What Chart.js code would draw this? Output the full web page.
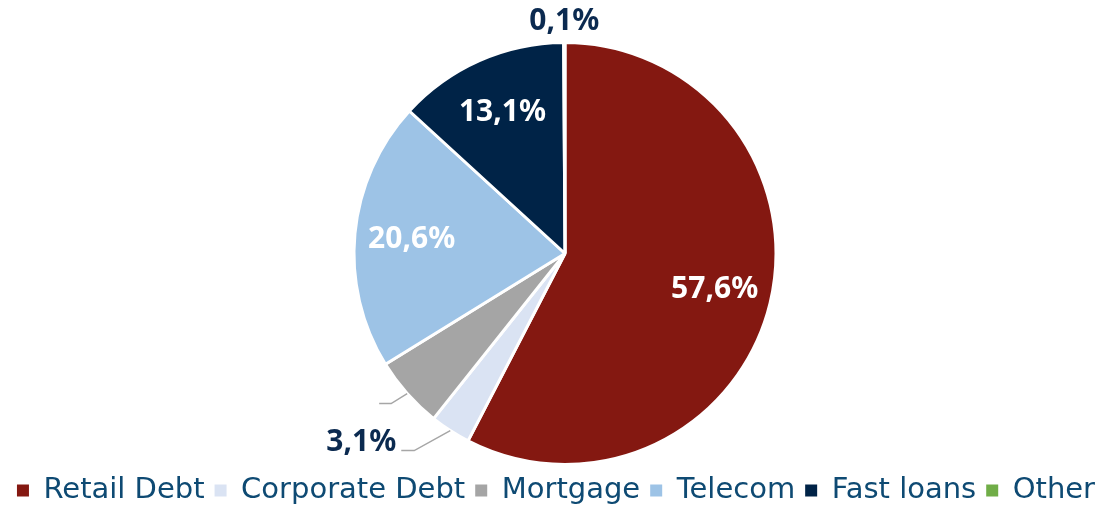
<!DOCTYPE html>
<html>
<head>
<meta charset="utf-8">
<script src="https://cdn.jsdelivr.net/npm/chart.js@4.4.0/dist/chart.umd.min.js"></script>
<style>
  html, body { margin: 0; padding: 0; background: #fff; overflow: hidden; }
  /* canvas is a bit wider than the window so the pie can sit right of centre
     while the legend still fits on one line */
  #wrap { position: absolute; left: -13px; top: 0; width: 1130px; height: 505px; }
</style>
</head>
<body>
<div id="wrap"><canvas id="chart"></canvas></div>
<script>
const categories = ['Retail Debt', 'Corporate Debt', 'Mortgage', 'Telecom', 'Fast loans', 'Other'];
const shares = [57.6, 3.1, 5.5, 20.6, 13.1, 0.1];
const sliceColors = ['#841811', '#DAE3F3', '#A5A5A5', '#9DC3E6', '#002347', '#70AD47'];

// how each slice gets its label
const labelModes = ['inside', 'leader', 'leaderOnly', 'inside', 'inside', 'outside'];
// leader elbow offsets (from the slice edge) for the small slices
const leaderElbows = { 1: [-36, 20, 13], 2: [-16, 10, 12] };

const navy = '#0B2A50';

function fmt(v) {
  return v.toFixed(1).replace('.', ',') + '%';
}

const sliceLabels = {
  id: 'sliceLabels',
  beforeDraw(chart) {
    // legend sits a little left of the pie centre
    if (!chart.legend._shifted) {
      chart.legend.left -= 9;
      chart.legend.right -= 9;
      chart.legend._shifted = true;
    }
  },
  afterDatasetsDraw(chart) {
    const ctx = chart.ctx;
    const arcs = chart.getDatasetMeta(0).data;
    ctx.save();
    ctx.font = 'bold 30px "Noto Sans"';
    arcs.forEach((arc, i) => {
      const p = arc.getProps(['x', 'y', 'startAngle', 'endAngle', 'outerRadius'], true);
      const mid = (p.startAngle + p.endAngle) / 2;
      const cos = Math.cos(mid), sin = Math.sin(mid);
      const text = fmt(shares[i]);
      const mode = labelModes[i];
      if (mode === 'inside') {
        const r = p.outerRadius * 0.73;
        ctx.fillStyle = '#fff';
        ctx.textAlign = 'center';
        ctx.textBaseline = 'middle';
        ctx.fillText(text, p.x + cos * r, p.y + sin * r);
      } else if (mode === 'outside') {
        const r = p.outerRadius + 21;
        ctx.fillStyle = navy;
        ctx.textAlign = 'center';
        ctx.textBaseline = 'middle';
        ctx.fillText(text, p.x + cos * r, p.y + sin * r);
      } else {
        const [dx, dy, hl] = leaderElbows[i];
        const sx = p.x + cos * p.outerRadius, sy = p.y + sin * p.outerRadius;
        const ex = sx + dx, ey = sy + dy;
        ctx.strokeStyle = '#A6A6A6';
        ctx.lineWidth = 1.5;
        ctx.beginPath();
        ctx.moveTo(sx, sy);
        ctx.lineTo(ex, ey);
        ctx.lineTo(ex - hl, ey);
        ctx.stroke();
        if (mode === 'leader') {
          ctx.fillStyle = navy;
          ctx.textAlign = 'right';
          ctx.textBaseline = 'middle';
          ctx.fillText(text, ex - hl - 5, ey - 8);
        }
      }
    });
    ctx.restore();
  }
};

new Chart(document.getElementById('chart'), {
  type: 'pie',
  data: {
    labels: categories,
    datasets: [{
      data: shares,
      backgroundColor: sliceColors,
      borderColor: '#fff',
      borderWidth: 3
    }]
  },
  options: {
    responsive: true,
    maintainAspectRatio: false,
    animation: false,
    layout: { padding: { top: 41, left: 26, right: 0, bottom: -10 } },
    plugins: {
      tooltip: { enabled: false },
      legend: {
        position: 'bottom',
        labels: {
          boxWidth: 12,
          boxHeight: 12,
          padding: 10,
          color: '#0E4A73',
          font: { family: 'DejaVu Sans', size: 29 },
          generateLabels(chart) {
            const items = Chart.overrides.pie.plugins.legend.labels.generateLabels(chart);
            items.forEach(it => { it.strokeStyle = it.fillStyle; it.lineWidth = 0; });
            return items;
          }
        }
      }
    }
  },
  plugins: [sliceLabels]
});
</script>
</body>
</html>
